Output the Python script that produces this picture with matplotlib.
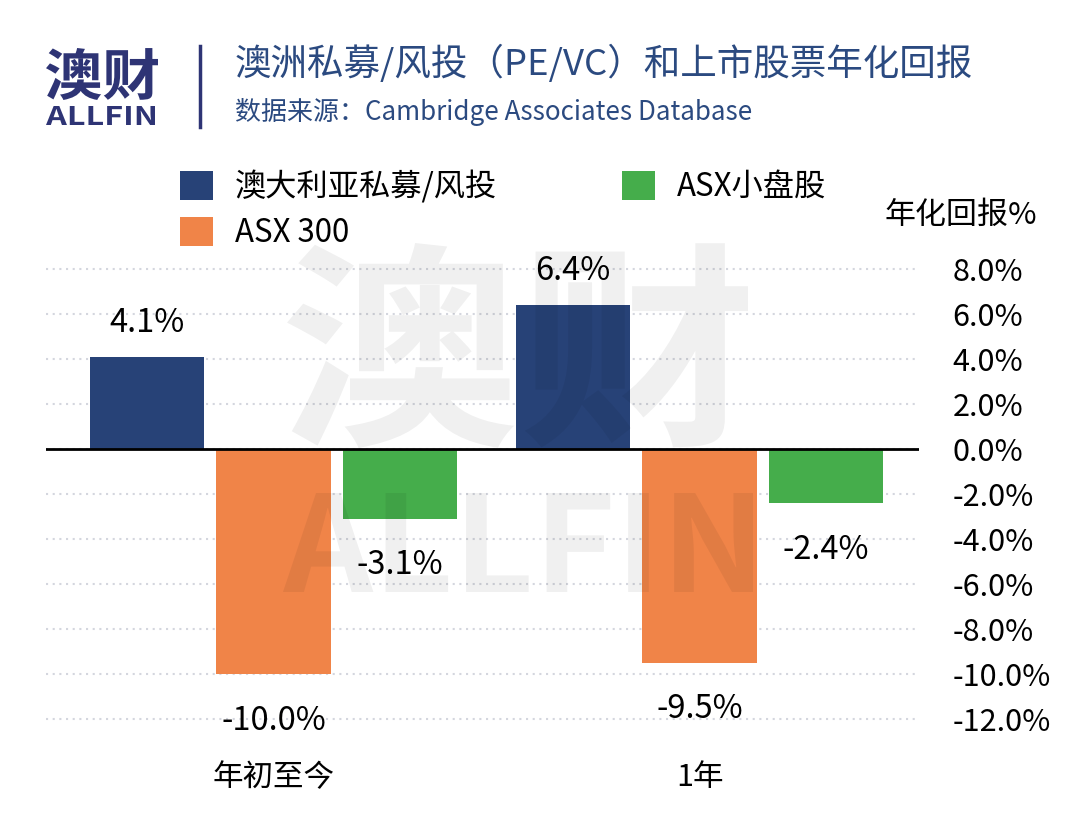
import matplotlib
matplotlib.use("Agg")
import matplotlib.pyplot as plt
from matplotlib.font_manager import FontProperties
from matplotlib.textpath import TextPath
from matplotlib.patches import PathPatch
from matplotlib.transforms import Affine2D
from matplotlib.ticker import FuncFormatter
import numpy as np

plt.rcParams['font.family'] = ['Noto Sans CJK SC', 'DejaVu Sans']

# data
periods = ['年初至今', '1年']
series_names = ['澳大利亚私募/风投', 'ASX 300', 'ASX小盘股']
pe_vc = [4.1, 6.4]
asx300 = [-10.0, -9.5]
asx_small = [-3.1, -2.4]
y_ticks = [8, 6, 4, 2, 0, -2, -4, -6, -8, -10, -12]

colors = ['#274277', '#f08448', '#45ad4b']
navy = '#2e3475'
title_blue = '#2b4a80'

FIG_W, FIG_H = 1080, 839
fig = plt.figure(figsize=(FIG_W / 100, FIG_H / 100), dpi=100)
ax = fig.add_axes([46 / FIG_W, 1 - 741.5 / FIG_H, (919 - 46) / FIG_W, (741.5 - 246.5) / FIG_H])


def text_in_box(s, box, color, alpha=1.0, weight='bold', zorder=5):
    """Draw text stretched into a pixel box (x0, y0, x1, y1), y from the top."""
    x0, y0, x1, y1 = box
    fp = FontProperties(family='Noto Sans CJK SC', weight=weight)
    path = TextPath((0, 0), s, size=100, prop=fp)
    ext = path.get_extents()
    tr = (Affine2D().translate(-ext.x0, -ext.y0)
          .scale((x1 - x0) / ext.width, (y1 - y0) / ext.height)
          .translate(x0, FIG_H - y1)
          .scale(1 / FIG_W, 1 / FIG_H)) + fig.transFigure
    fig.add_artist(PathPatch(path, transform=tr, fc=color, ec='none',
                             alpha=alpha, zorder=zorder))


# bars
x = np.arange(len(periods))
step, width = 0.297, 0.269
for k, (vals, name) in enumerate(zip([pe_vc, asx300, asx_small], series_names)):
    bars = ax.bar(x + (k - 1) * step, vals, width, color=colors[k], label=name, zorder=2)
    pad = 13 if min(vals) >= 0 else 22
    ax.bar_label(bars, fmt='{:.1f}%', padding=pad, fontsize=23.5)

ax.axhline(0, color='black', lw=2, zorder=3)
ax.set_xlim(-0.534, 1.515)
ax.set_ylim(-13, 9)
ax.set_yticks(y_ticks)
ax.yaxis.set_major_formatter(FuncFormatter(lambda v, p: f'{v:.1f}%'))
ax.yaxis.tick_right()
ax.tick_params(axis='y', length=0, pad=24, labelsize=22)
ax.set_xticks(x)
ax.set_xticklabels(periods, fontsize=22)
ax.tick_params(axis='x', length=0, pad=15)
ax.grid(axis='y', color='#d4d6de', lw=1.5, linestyle=(0, (1, 2.2)), zorder=0)
ax.set_axisbelow(True)
for sp in ax.spines.values():
    sp.set_visible(False)

fig.text(885 / FIG_W, 1 - 215 / FIG_H, '年化回报%', fontsize=22.3, va='center', ha='left')

# legend
ax.legend(ncol=2, loc='upper left', bbox_to_anchor=(180 / FIG_W, 1 - 170 / FIG_H),
          bbox_transform=fig.transFigure, frameon=False, fontsize=22.5,
          handlelength=1.05, handleheight=1.05, handletextpad=0.7,
          labelspacing=0.45, columnspacing=4.0, borderpad=0, borderaxespad=0)

# header
text_in_box('澳财', (46, 48, 158, 100), navy)
text_in_box('ALLFIN', (46, 106, 155, 125), navy)
fig.add_artist(plt.Line2D([200 / FIG_W, 200 / FIG_W], [1 - 46 / FIG_H, 1 - 127 / FIG_H],
                          color=navy, lw=2.5, transform=fig.transFigure))
fig.text(235 / FIG_W, 1 - 64 / FIG_H, '澳洲私募/风投（PE/VC）和上市股票年化回报',
         fontsize=26.3, color=title_blue, va='center', ha='left')
fig.text(235 / FIG_W, 1 - 112 / FIG_H, '数据来源：Cambridge Associates Database',
         fontsize=18.7, color=title_blue, va='center', ha='left')

# watermark
text_in_box('澳财', (287, 243, 748, 448), 'black', alpha=0.06, zorder=5)
text_in_box('ALLFIN', (283, 493, 753, 592), 'black', alpha=0.06, zorder=5)

fig.savefig('out.png', dpi=100, facecolor='white')
